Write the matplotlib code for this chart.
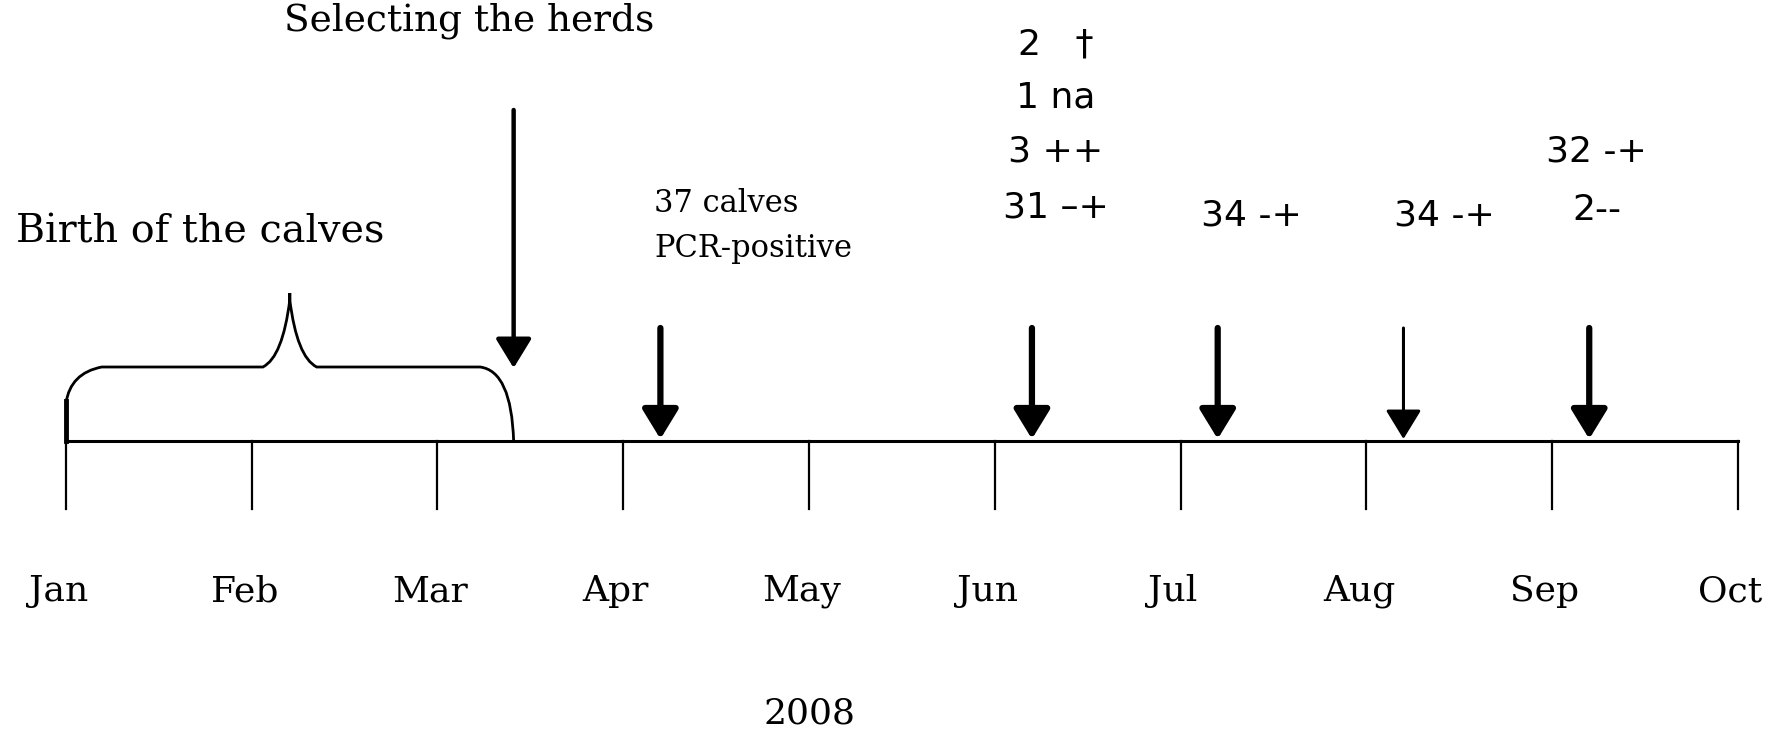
import matplotlib
matplotlib.use('Agg')
import matplotlib.pyplot as plt
from matplotlib.path import Path
from matplotlib.patches import PathPatch

# timeline: months from Jan (0) to Oct (9), 2008
months = ['Jan', 'Feb', 'Mar', 'Apr', 'May', 'Jun', 'Jul', 'Aug', 'Sep', 'Oct']
year = '2008'

birth_span = (0.0, 2.41)          # brace "Birth of the calves"
selecting_at = 2.41               # arrow "Selecting the herds"
sample_at = [3.2, 5.2, 6.2, 7.2, 8.2]
sample_lw = [4.5, 4.5, 4.5, 2.2, 4.5]

# text results per sampling (x position in months, lines top to bottom)
result_x = [5.33, 6.38, 7.42, 8.24]
results = [
    ['2   \u2020', '1 na', '3 ++', '31 \u2013+'],
    ['34 -+'],
    ['34 -+'],
    ['32 -+', '2--'],
]
result_y = [
    [396, 343, 290, 234],
    [226],
    [226],
    [289, 231],
]

serif = 'DejaVu Serif'
sans = 'DejaVu Sans'

fig = plt.figure(figsize=(17.75, 7.36), dpi=100)
ax = fig.add_axes([0, 0, 1, 1])
ax.set_xlim(-0.355, 9.2)
ax.set_ylim(-295, 441)
ax.axis('off')

# main line and month ticks
ax.plot([0, len(months) - 1], [0, 0], color='black', lw=2.2)
for i, m in enumerate(months):
    ax.plot([i, i], [0, -68], color='black', lw=1.6)
    ax.text(i - 0.04, -150, m, ha='center', va='center', fontsize=26, family=serif)
ax.text(4, -272, year, ha='center', va='center', fontsize=26, family=serif)

# brace over the birth period
a, b = birth_span
mid = (a + b) / 2
w = b - a
verts = [
    (a, 38), (a + 0.01 * w, 68), (a + 0.08 * w, 74),
    (mid - 0.06 * w, 74),
    (mid - 0.016 * w, 84), (mid, 141),
    (mid, 148), (mid, 141),
    (mid + 0.016 * w, 84), (mid + 0.06 * w, 74),
    (b - 0.075 * w, 74),
    (b - 0.005 * w, 70), (b, 0),
]
codes = [Path.MOVETO, Path.CURVE3, Path.CURVE3,
         Path.LINETO,
         Path.CURVE3, Path.CURVE3,
         Path.LINETO, Path.LINETO,
         Path.CURVE3, Path.CURVE3,
         Path.LINETO,
         Path.CURVE3, Path.CURVE3]
ax.add_patch(PathPatch(Path(verts, codes), fill=False, lw=2.0, color='black'))
ax.plot([a, a], [0, 40], color='black', lw=3.5)
ax.text(-0.27, 209, 'Birth of the calves', ha='left', va='center', fontsize=28.5, family=serif)

head = '-|>,head_length=0.9,head_width=0.55'

# selecting arrow
ax.annotate('', xy=(selecting_at, 73), xytext=(selecting_at, 331),
            arrowprops=dict(arrowstyle=head, lw=3.2, color='black',
                            shrinkA=0, shrinkB=0, mutation_scale=20))
ax.text(2.17, 420, 'Selecting the herds', ha='center', va='center', fontsize=27, family=serif)

# sampling arrows
for x, lw in zip(sample_at, sample_lw):
    ax.annotate('', xy=(x, 2), xytext=(x, 113),
                arrowprops=dict(arrowstyle=head, lw=lw, color='black',
                                shrinkA=0, shrinkB=0, mutation_scale=20))

ax.text(3.165, 238, '37 calves', ha='left', va='center', fontsize=22, family=serif)
ax.text(3.165, 192, 'PCR-positive', ha='left', va='center', fontsize=22, family=serif)

for x, lines, ys in zip(result_x, results, result_y):
    for s, y in zip(lines, ys):
        ax.text(x, y, s, ha='center', va='center', fontsize=26, family=[sans])

fig.savefig('out.png', dpi=100)
